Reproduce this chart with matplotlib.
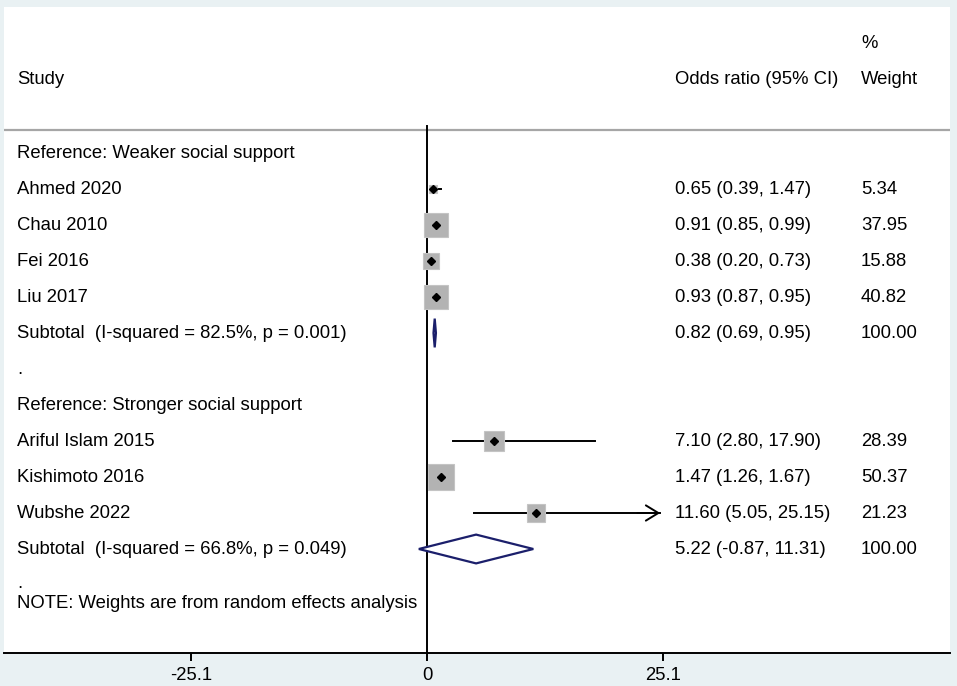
import numpy as np
import matplotlib
matplotlib.use("Agg")
import matplotlib.pyplot as plt

plt.rcParams['font.family'] = ['Liberation Sans', 'DejaVu Sans']

# study level data
studies = ["Ahmed 2020", "Chau 2010", "Fei 2016", "Liu 2017",
           "Ariful Islam 2015", "Kishimoto 2016", "Wubshe 2022"]
odds = [0.65, 0.91, 0.38, 0.93, 7.10, 1.47, 11.60]
ci_lo = [0.39, 0.85, 0.20, 0.87, 2.80, 1.26, 5.05]
ci_hi = [1.47, 0.99, 0.73, 0.95, 17.90, 1.67, 25.15]
weights = [5.34, 37.95, 15.88, 40.82, 28.39, 50.37, 21.23]
group = [0, 0, 0, 0, 1, 1, 1]

# subgroup data
group_names = ["Reference: Weaker social support", "Reference: Stronger social support"]
sub_odds = [0.82, 5.22]
sub_lo = [0.69, -0.87]
sub_hi = [0.95, 11.31]
sub_i2 = [82.5, 66.8]
sub_p = [0.001, 0.049]

xticks = [-25.1, 0, 25.1]
clip = 25.1

W, H = 957, 686
fig = plt.figure(figsize=(W / 100, H / 100), dpi=100)
fig.patch.set_facecolor('#e9f1f3')

# plot region in pixels
left, right, top, bottom = 4, 950, 7, 653
ax = fig.add_axes([left / W, 1 - bottom / H, (right - left) / W, (bottom - top) / H])
ax.set_facecolor('white')

# x scale: 0 at px 427, 25.1 at px 663
ppu = (663 - 427) / 25.1
ax.set_xlim((left - 427) / ppu, (right - 427) / ppu)
# y in rows: row 0 at px 153, 36 px per row
row0, rowh = 153, 36
ax.set_ylim((bottom - row0) / rowh, (top - row0) / rowh)

fs = 13.3
x_study = (17 - left) / (right - left)
x_or = (675 - left) / (right - left)
x_wt = (861 - left) / (right - left)
tr = matplotlib.transforms.blended_transform_factory(ax.transAxes, ax.transData)

# header
ax.text(x_study, -2.03, "Study", transform=tr, fontsize=fs, va='center')
ax.text(x_or, -2.03, "Odds ratio (95% CI)", transform=tr, fontsize=fs, va='center')
ax.text(x_wt, -2.03, "Weight", transform=tr, fontsize=fs, va='center')
ax.text(x_wt, -3.03, "%", transform=tr, fontsize=fs, va='center')
line_y = (130 - row0) / rowh
ax.axhline(line_y, color='#a6a6a6', lw=1.6)
ax.plot([0, 0], [line_y - 0.1, (bottom - row0) / rowh], color='black', lw=1.4, zorder=2)

row = 0
for g in range(2):
    ax.text(x_study, row, group_names[g], transform=tr, fontsize=fs, va='center')
    row += 1
    for i in range(len(studies)):
        if group[i] != g:
            continue
        ax.text(x_study, row, studies[i], transform=tr, fontsize=fs, va='center')
        ax.text(x_or, row, "%.2f (%.2f, %.2f)" % (odds[i], ci_lo[i], ci_hi[i]),
                transform=tr, fontsize=fs, va='center')
        ax.text(x_wt, row, "%.2f" % weights[i], transform=tr, fontsize=fs, va='center')
        side = 3.8 * np.sqrt(weights[i]) * 72 / 100
        ax.plot(odds[i], row, marker='s', markersize=side, color='#b3b3b3',
                markeredgecolor='#c4c4c4', markeredgewidth=0.8, zorder=4)
        if ci_hi[i] > clip:
            ax.plot([ci_lo[i], clip - 0.3], [row, row], color='black', lw=1.4, zorder=3)
            ax.annotate("", xy=(clip, row), xytext=(clip - 3, row),
                        arrowprops=dict(arrowstyle='->,head_length=0.9,head_width=0.55',
                                        color='black', lw=1.4), zorder=3)
        else:
            ax.plot([ci_lo[i], ci_hi[i]], [row, row], color='black', lw=1.4, zorder=3)
        ax.plot(odds[i], row, marker='D', markersize=4.2, color='black', zorder=5)
        row += 1
    # subtotal diamond
    ax.text(x_study, row, "Subtotal  (I-squared = %.1f%%, p = %.3f)" % (sub_i2[g], sub_p[g]),
            transform=tr, fontsize=fs, va='center')
    ax.text(x_or, row, "%.2f (%.2f, %.2f)" % (sub_odds[g], sub_lo[g], sub_hi[g]),
            transform=tr, fontsize=fs, va='center')
    ax.text(x_wt, row, "100.00", transform=tr, fontsize=fs, va='center')
    hh = 0.4
    ax.fill([sub_lo[g], sub_odds[g], sub_hi[g], sub_odds[g], sub_lo[g]],
            [row, row - hh, row, row + hh, row], facecolor='white',
            edgecolor='#1b1f6b', lw=1.6, zorder=4)
    row += 1
    ax.text(x_study, row - 0.05 * g, ".", transform=tr, fontsize=fs, va='center')
    row += 1

ax.text(x_study, row - 1 + 0.5, "NOTE: Weights are from random effects analysis",
        transform=tr, fontsize=fs, va='center')

for s in ['top', 'right', 'left']:
    ax.spines[s].set_visible(False)
ax.spines['bottom'].set_linewidth(1.4)
ax.set_yticks([])
ax.set_xticks(xticks)
ax.set_xticklabels(["%g" % t for t in xticks], fontsize=fs)
ax.tick_params(axis='x', length=6, width=1.4, pad=4)

fig.savefig("out.png", dpi=100, facecolor=fig.get_facecolor())
